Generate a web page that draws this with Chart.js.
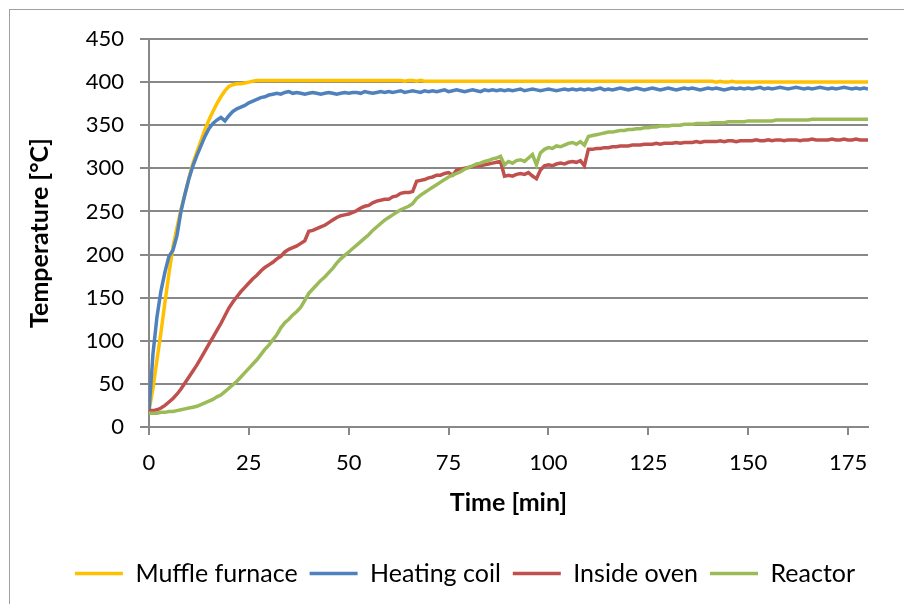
<!DOCTYPE html>
<html>
<head>
<meta charset="utf-8">
<script src="https://cdn.jsdelivr.net/npm/chart.js@4.4.1/dist/chart.umd.min.js"></script>
<style>
  html, body { margin: 0; padding: 0; background: #fff; overflow: hidden; }
  #wrap { position: relative; width: 904px; height: 604px; }
  #frame { position: absolute; left: 9px; top: 9px; width: 900px; height: 600px;
           border: 1.5px solid #a0a0a0; pointer-events: none; }
</style>
</head>
<body>
<div id="wrap">
  <canvas id="myChart" width="904" height="604"></canvas>
  <div id="frame"></div>
</div>
<script>
// time axis, one reading per minute
const minutes = [
  0,1,2,3,4,5,6,7,8,9,10,11,12,13,14,15,16,17,18,19,20,21,22,23,24,25,26,27,28,29,
  30,31,32,33,34,35,36,37,38,39,40,41,42,43,44,45,46,47,48,49,50,51,52,53,54,55,56,57,58,59,
  60,61,62,63,64,65,66,67,68,69,70,71,72,73,74,75,76,77,78,79,80,81,82,83,84,85,86,87,88,89,
  90,91,92,93,94,95,96,97,98,99,100,101,102,103,104,105,106,107,108,109,110,111,112,113,114,115,116,117,118,119,
  120,121,122,123,124,125,126,127,128,129,130,131,132,133,134,135,136,137,138,139,140,141,142,143,144,145,146,147,148,149,
  150,151,152,153,154,155,156,157,158,159,160,161,162,163,164,165,166,167,168,169,170,171,172,173,174,175,176,177,178,179,180
];

const muffleFurnace = [
  19,45,78,110,145,178,209,231,252,270,
  289,306,319,332,345,356,366,375,383,390,
  395,397,398,398,399,400,401,402,402,402,
  402,402,402,402,402,402,402,402,402,402,
  402,402,402,402,402,402,402,402,402,402,
  402,402,402,402,402,402,402,402,402,402,
  402,402,402,402,401,402,402,401,402,401,
  401,401,401,401,401,401,401,401,401,401,
  401,401,401,401,401,401,401,401,401,401,
  401,401,401,401,401,401,401,401,401,401,
  401,401,401,401,401,401,401,401,401,401,
  401,401,401,401,401,401,401,401,401,401,
  401,401,401,401,401,401,401,401,401,401,
  401,401,401,401,401,401,401,401,401,401,
  401,401,400,401,400,400,401,400,400,400,
  400,400,400,400,400,400,400,400,400,400,
  400,400,400,400,400,400,400,400,400,400,
  400,400,400,400,400,400,400,400,400,400,400
];

const heatingCoil = [
  19,85,128,158,180,198,205,222,250,270,
  288,303,315,326,337,346,352,356,359,355,
  361,366,369,371,373,376,378,380,382,383,
  385,386,387,386,388,389,387,388,387,386,
  387,388,387,386,387,388,387,386,387,388,
  387,388,388,387,389,388,387,388,389,388,
  389,388,389,390,388,389,390,389,388,390,
  389,390,389,390,391,389,390,391,390,389,
  390,391,390,389,391,390,391,390,391,390,
  391,390,391,392,390,391,392,391,390,391,
  392,391,390,391,392,391,392,391,392,391,
  392,391,392,393,391,392,391,392,393,392,
  391,392,393,392,391,392,393,392,391,392,
  393,392,391,392,393,392,393,392,391,392,
  393,392,393,392,391,392,393,392,393,392,
  393,392,393,394,392,393,392,393,394,393,
  392,393,394,393,392,393,392,393,394,393,
  392,393,392,393,394,393,392,393,392,393,392
];

const insideOven = [
  19,19,20,22,25,29,33,38,44,51,
  58,65,72,80,88,96,104,112,120,129,
  138,145,151,157,162,167,172,176,181,185,
  188,191,195,198,203,206,208,210,213,216,
  227,228,230,232,234,237,240,243,245,246,
  247,249,251,254,256,257,260,262,263,264,
  264,267,268,271,272,272,273,285,286,287,
  289,290,292,292,294,295,292,298,299,300,
  301,302,303,303,304,305,306,307,308,291,
  292,291,293,294,293,295,291,288,298,303,
  304,303,305,306,305,307,308,307,309,303,
  322,322,323,323,324,324,325,325,326,326,
  326,327,327,327,328,328,328,329,328,329,
  329,329,330,329,330,330,330,331,330,331,
  331,331,331,332,331,332,332,331,332,332,
  332,332,333,332,332,333,332,333,333,332,
  333,333,333,332,333,333,334,333,333,333,
  333,334,333,333,334,333,333,334,333,333,333
];

const reactor = [
  16,16,16,17,17,18,18,19,20,21,
  22,23,24,26,28,30,32,35,37,41,
  45,49,53,58,63,68,73,78,84,90,
  95,101,107,115,121,125,130,134,139,147,
  155,160,165,170,174,179,184,190,195,199,
  203,207,211,215,219,223,228,232,236,240,
  243,246,249,252,254,256,259,265,269,272,
  275,278,281,284,287,290,292,294,296,299,
  301,303,305,306,308,309,311,312,314,304,
  308,306,309,310,308,312,316,304,318,322,
  324,323,326,325,327,329,330,328,331,327,
  337,338,339,340,341,342,342,343,344,344,
  345,345,346,346,347,347,348,348,349,349,
  349,350,350,350,351,351,351,352,352,352,
  352,353,353,353,353,354,354,354,354,354,
  355,355,355,355,355,355,355,356,356,356,
  356,356,356,356,356,356,357,357,357,357,
  357,357,357,357,357,357,357,357,357,357,357
];

const seriesNames = ['Muffle furnace', 'Heating coil', 'Inside oven', 'Reactor'];
const seriesColors = ['#FFC000', '#4F81BD', '#C0504D', '#9BBB59'];
const seriesValues = [muffleFurnace, heatingCoil, insideOven, reactor];

const gridColor = '#888888';
const fontName = 'Lato';

const datasets = seriesValues.map((vals, i) => ({
  label: seriesNames[i],
  data: vals.map((v, j) => ({x: minutes[j], y: v})),
  borderColor: seriesColors[i],
  backgroundColor: seriesColors[i],
  borderWidth: 3.5,
  pointRadius: 0,
  tension: 0,
  fill: false,
  order: seriesValues.length - i   // later series on top, like the original
}));

new Chart(document.getElementById('myChart'), {
  type: 'line',
  data: {datasets},
  options: {
    responsive: false,
    animation: false,
    // left padding also centres the legend under the plot
    layout: {padding: {top: 39, right: 36, bottom: 8, left: 62}},
    scales: {
      x: {
        type: 'linear',
        min: 0,
        max: 180,
        afterFit: s => { s.height = 122; },
        ticks: {stepSize: 25, includeBounds: false, color: '#000', padding: 15,
                font: {family: fontName, size: 22}},
        grid: {drawOnChartArea: false, drawTicks: true, tickLength: 8,
               color: gridColor, lineWidth: 2},
        border: {color: gridColor, width: 2},
        title: {display: true, text: 'Time [min]', color: '#000',
                font: {family: fontName, size: 25, weight: 'bold'},
                padding: {top: 0, bottom: 31}}
      },
      y: {
        min: 0,
        max: 450,
        afterFit: s => { s.width = 87; },
        ticks: {stepSize: 50, color: '#000', padding: 16,
                font: {family: fontName, size: 22}},
        grid: {color: gridColor, lineWidth: 2, tickLength: 9},
        border: {color: gridColor, width: 2},
        title: {display: true, text: 'Temperature [°C]', color: '#000',
                font: {family: fontName, size: 25, weight: 'bold'},
                padding: {top: -37, bottom: 0}}
      }
    },
    plugins: {
      tooltip: {enabled: false},
      legend: {
        position: 'bottom',
        labels: {
          usePointStyle: true,
          pointStyle: 'line',
          pointStyleWidth: 48,
          padding: 12,
          color: '#000',
          font: {family: fontName, size: 25},
          sort: (a, b) => a.datasetIndex - b.datasetIndex
        }
      }
    }
  }
});
</script>
</body>
</html>
